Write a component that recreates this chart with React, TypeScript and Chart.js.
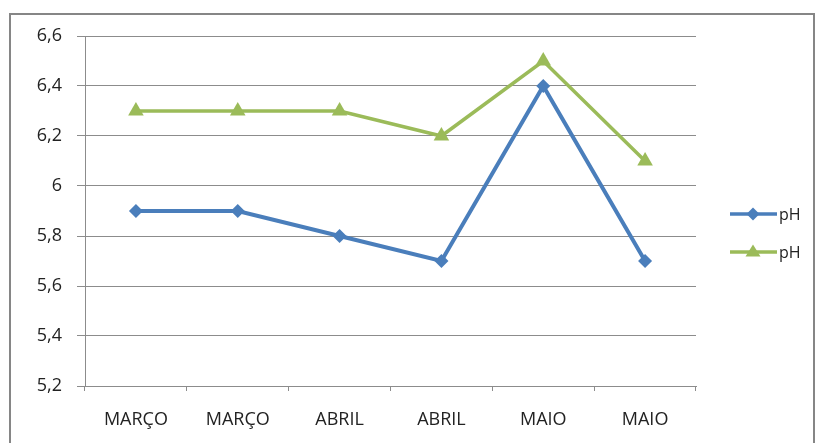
import React, { useEffect, useRef } from "react";
import { Chart, registerables } from "chart.js";

Chart.register(...registerables);

const categories = ["MARÇO", "MARÇO", "ABRIL", "ABRIL", "MAIO", "MAIO"];
const seriesBlue = [5.9, 5.9, 5.8, 5.7, 6.4, 5.7];
const seriesGreen = [6.3, 6.3, 6.3, 6.2, 6.5, 6.1];
const seriesNames = ["pH", "pH"];
const yMin = 5.2;
const yMax = 6.6;
const yStep = 0.2;

const BLUE = "#4a7ebb";
const GREEN = "#9bbb59";
const GRID = "#8c8c8c";
const FONT = "'Open Sans', sans-serif";

const framePlugin = {
  id: "frame",
  beforeDraw(chart: any) {
    const ctx = chart.ctx;
    ctx.save();
    ctx.fillStyle = "#ffffff";
    ctx.fillRect(0, 0, chart.width, chart.height);
    ctx.strokeStyle = "#868686";
    ctx.lineWidth = 2;
    ctx.strokeRect(10, 14, 804, 460);
    ctx.restore();
  },
};

const legendPlugin = {
  id: "customLegend",
  afterDraw(chart: any) {
    const ctx = chart.ctx;
    const items = [
      { y: 214, color: BLUE, style: "diamond" },
      { y: 252, color: GREEN, style: "triangle" },
    ];
    ctx.save();
    items.forEach((it, i) => {
      ctx.strokeStyle = it.color;
      ctx.lineWidth = 3.5;
      ctx.beginPath();
      ctx.moveTo(730, it.y);
      ctx.lineTo(777, it.y);
      ctx.stroke();
      ctx.fillStyle = it.color;
      ctx.beginPath();
      const cx = 753;
      if (it.style === "diamond") {
        const r = 6.5;
        ctx.moveTo(cx, it.y - r);
        ctx.lineTo(cx + r, it.y);
        ctx.lineTo(cx, it.y + r);
        ctx.lineTo(cx - r, it.y);
      } else {
        const r = 7.5;
        ctx.moveTo(cx, it.y - r);
        ctx.lineTo(cx + r, it.y + r * 0.6);
        ctx.lineTo(cx - r, it.y + r * 0.6);
      }
      ctx.closePath();
      ctx.fill();
      ctx.fillStyle = "#222";
      ctx.font = "16px " + FONT;
      ctx.textBaseline = "middle";
      ctx.textAlign = "left";
      ctx.fillText(seriesNames[i], 779, it.y + 1);
    });
    ctx.restore();
  },
};

export default function App() {
  const ref = useRef<HTMLCanvasElement | null>(null);
  useEffect(() => {
    document.body.style.margin = "0";
    const chart = new Chart(ref.current as HTMLCanvasElement, {
      type: "line",
      data: {
        labels: categories,
        datasets: [
          {
            label: seriesNames[0],
            data: seriesBlue,
            borderColor: BLUE,
            backgroundColor: BLUE,
            borderWidth: 4,
            pointStyle: "rectRot",
            pointRadius: 7,
            pointBorderWidth: 0,
            tension: 0,
          },
          {
            label: seriesNames[1],
            data: seriesGreen,
            borderColor: GREEN,
            backgroundColor: GREEN,
            borderWidth: 3.5,
            pointStyle: "triangle",
            pointRadius: 9,
            pointBorderWidth: 0,
            tension: 0,
          },
        ],
      },
      options: {
        responsive: false,
        animation: false,
        layout: { padding: { left: 0, right: 119, top: 36, bottom: 0 } },
        plugins: { legend: { display: false }, tooltip: { enabled: false } },
        scales: {
          x: {
            offset: true,
            afterFit: (s: any) => {
              s.height = 57;
            },
            grid: {
              offset: true,
              drawOnChartArea: false,
              drawTicks: true,
              tickLength: 5,
              color: GRID,
            },
            border: { color: GRID, width: 1 },
            ticks: {
              color: "#222",
              font: { family: FONT, size: 18 },
              padding: 18,
              maxRotation: 0,
              autoSkip: false,
            },
          },
          y: {
            min: yMin,
            max: yMax,
            afterFit: (s: any) => {
              s.width = 85;
            },
            grid: { color: GRID, tickLength: 8, drawTicks: true },
            border: { color: GRID, width: 1 },
            ticks: {
              stepSize: yStep,
              color: "#222",
              font: { family: FONT, size: 18 },
              padding: 15,
              callback: (v: any) => {
                const n = Math.round(Number(v) * 10) / 10;
                return String(n).replace(".", ",");
              },
            },
          },
        },
      },
      plugins: [framePlugin, legendPlugin],
    });
    return () => chart.destroy();
  }, []);
  return (
    <div style={{ position: "absolute", left: 0, top: 0, width: 815, height: 443 }}>
      <canvas ref={ref} width={815} height={443} />
    </div>
  );
}
